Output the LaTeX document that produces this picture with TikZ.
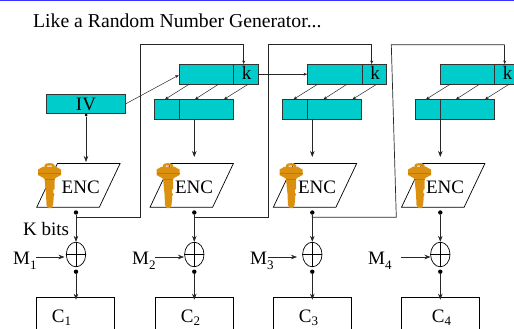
\documentclass[tikz,border=0pt]{standalone}
\usepackage{fontspec}
\setmainfont{Liberation Serif}
\usepackage{xcolor}
\usetikzlibrary{arrows.meta,positioning,calc,shapes.geometric}
\definecolor{tealx}{HTML}{00CCCC}
\definecolor{keyx}{HTML}{DB9010}
\definecolor{keyd}{HTML}{B87A18}
\definecolor{bluex}{HTML}{3333FF}
\newcommand{\subs}[2][5pt]{\raisebox{-#1}{\fontsize{13}{13}\selectfont #2}}
\newcommand{\keyicon}[1]{%
\begin{scope}[shift={(#1,158)}]
\fill[keyx,even odd rule] (-5,9) -- (-5,7) .. controls (-5,4.5) and (5,4.5) .. (5,7) -- (5,9) -- (2.5,9) -- (2.5,7.5) -- (-2.5,7.5) -- (-2.5,9) -- cycle;
\fill[keyx] (-6,8.5) -- (6,8.5) -- (11.5,11.5) -- (11.5,17) -- (6,20) -- (5,21) -- (5,31) -- (3.8,32) -- (3.8,35) -- (5,36) -- (4,39) -- (4,42) -- (3.5,47) -- (2,50) -- (-1.5,50) -- (-3,47) -- (-3.5,36) -- (-5,21) -- (-6,20) -- (-11.5,17) -- (-11.5,11.5) -- cycle;
\draw[keyd,line width=.7pt] (-11.5,15) -- (11.5,15);
\draw[keyd,line width=.7pt] (-5,21.5) -- (5,21.5);
\end{scope}}
\tikzset{lbl/.style={inner sep=0pt,anchor=base,font=\fontsize{19}{21}\selectfont},
regbox/.style={draw=black!80,fill=tealx,line width=.8pt,minimum width=79pt,minimum height=19.5pt,inner sep=0pt},
cbox/.style={draw,line width=.7pt,minimum width=78pt,minimum height=60pt,anchor=north,inner sep=0pt},
xorbox/.style={draw,ellipse,line width=.7pt,minimum width=19.4pt,minimum height=24.6pt,inner sep=0pt},
dotc/.style={circle,fill=black,minimum size=4.4pt,inner sep=0pt},
arr/.style={-{Stealth[length=6pt,width=4.5pt]},line width=.6pt,black!85},
thin arr/.style={-{Stealth[length=3.5pt,width=3pt]},line width=.5pt,black!85},
wire/.style={line width=.7pt,black!85}}
\begin{document}
\begin{tikzpicture}[x=1pt,y=-1pt]
\clip (0,0) rectangle (514,329);
\useasboundingbox (0,0) rectangle (514,329);
\fill[bluex] (0,0) rectangle (514,1.2);
\node[lbl,anchor=base west,font=\fontsize{19.7}{21}\selectfont] (title) at (33,28) {Like a Random Number Generator...};
% registers on top
\node[regbox] (iv) at (85.5,104) {};
\node[lbl] (ivlab) at (86,110.7) {IV};
\foreach \n/\x in {1/218.5,2/347,3/479.5}{\node[regbox] (top\n) at (\x,74.2) {};\node[lbl] (k\n) at (\x+28.2,80) {k};\draw[line width=.8pt,black!80] (\x+15,64.5) -- (\x+15,84);}
\foreach \n/\x in {1/194,2/322.3,3/455.3}{\node[regbox] (low\n) at (\x,109.2) {};\draw[line width=.8pt,black!80] (\x-15,99.5) -- (\x-15,119);}
% shift arrows
\foreach \n in {1,2,3}{\foreach \a/\b in {-29.5/-53.5,-.2/-23.5,29.5/5.5}{\draw[thin arr] ($(top\n.south)+(\a,0)$) -- ($(top\n.south)+(\b,15)$);}}
\draw[thin arr] (iv.east) -- ($(top1.west)+(0,1)$);
\draw[thin arr] (top1.east) -- (top2.west);
% one column per block
\foreach \n/\x/\ex/\tx/\kx/\bx in {1/76/78.4/80.7/49.5/75.8,2/194.3/191.7/194/168/194.3,3/312.3/315/317/291/312.3,4/440.3/443.2/445/419.5/440.7}{
\draw[line width=.7pt] (\ex-41.7,207.3) -- (\ex+20.9,207.3) -- (\ex+41.7,163.5) -- (\ex-21,163.5) -- cycle;
\node[lbl] (enc\n) at (\tx,193.7) {ENC};
\keyicon{\kx}
\node[dotc] (dot\n) at (\x,212.5) {};
\node[xorbox] (xor\n) at (\x,254.5) {};
\draw[line width=.7pt] (xor\n.north) -- (xor\n.south) (xor\n.west) -- (xor\n.east);
\node[dotc] (out\n) at (\x,271.7) {};
\node[cbox] (c\n) at (\bx,296.7) {};
\draw[arr] (dot\n) -- (xor\n.north);
\draw[arr] (out\n) -- ($(c\n.north)+(\x-\bx,3)$);
}
\foreach \n/\x in {1/61.5,2/190.5,3/308.5,4/441.5}{\node[lbl] (clab\n) at (\x,322) {C\subs[3.5pt]{\n}};}
% plaintext inputs
\foreach \n/\x/\xa/\xb in {1/13/36/64.5,2/132/155/184,3/250/268/297,4/368/401/430.5}{\node[lbl,anchor=base west] (m\n) at (\x,264) {M\subs{\n}};\coordinate (ma\n) at (\xa,257);\draw[arr] (ma\n) -- (\xb,257);}
\node[lbl,anchor=base west] (kbits) at (23,235) {K bits};
% into the ciphers
\node[dotc,minimum size=3pt] (ivdot) at (86,115) {};
\draw[arr] (ivdot) -- (86,162);
\foreach \n/\x in {1/194.3,2/312.3,3/440.3}{\coordinate (lo\n) at (\x,119);\draw[arr] (lo\n) -- (\x,157);}
% feedback
\coordinate (t1) at (243.7,64);
\coordinate (t2) at (371.7,64);
\coordinate (t3) at (504.7,64);
\draw[wire] (dot1) -- (76,217.3) -- (140,217.3) -- (140,44.7) -- (243.7,44.7);
\draw[thin arr] (243.7,44.7) -- (t1);
\draw[wire] (dot2) -- (194.3,217.3) -- (268.7,217.3) -- (268.7,44.7) -- (371.7,44.7);
\draw[thin arr] (371.7,44.7) -- (t2);
\draw[wire] (dot3) -- (312.3,217.3) -- (396.3,217.3) -- (391.3,44.7) -- (504.7,44.7);
\draw[thin arr] (504.7,44.7) -- (t3);
\end{tikzpicture}
\end{document}
